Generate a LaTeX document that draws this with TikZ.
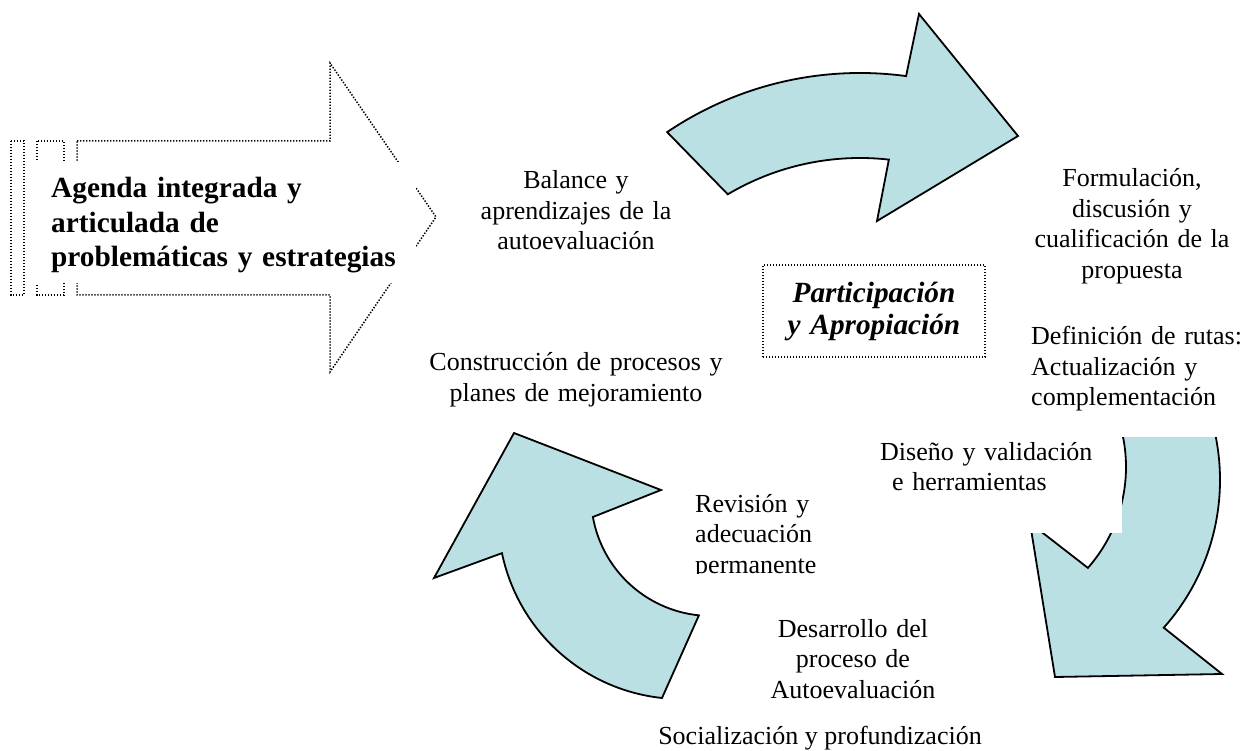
\documentclass[tikz,border=0pt]{standalone}
\usepackage{fontspec}
\setmainfont{Liberation Serif}
\definecolor{arrowblue}{RGB}{186,224,228}
\tikzset{
bluearrow/.style={draw=black, line width=1.8pt, fill=arrowblue, line join=miter}, % the three curved cycle arrows
dotline/.style={line width=1.5pt, dash pattern=on 1.4pt off 1.6pt}, % dotted outlines
mask/.style={fill=white}, % white text boxes that hide parts of the arrows
txt/.style={inner sep=0pt, font=\fontsize{26}{30.5}\selectfont}, % plain step texts
boldtxt/.style={inner sep=0pt, font=\fontsize{29.3}{34.5}\selectfont\bfseries}, % agenda text
}

\begin{document}
\begin{tikzpicture}[x=1pt, y=-1pt]
\useasboundingbox (0,0) rectangle (1243,751);

% striped arrow on the left
\draw[dotline] (11,141) rectangle (24,295);
\draw[dotline] (37,141) rectangle (64,295);
\draw[dotline] (77,141) -- (330,141) -- (330,63) -- (436,217) -- (330,372) -- (330,295) -- (77,295) -- cycle;
\fill[mask] (30,162) rectangle (416,283);
\node[boldtxt, anchor=base west, text width=350pt, align=left] (agenda) at (51,198)
  {Agenda integrada y\\articulada de\\problemáticas y estrategias};

% cycle arrows
\draw[bluearrow] (667.15,132.13) arc[start angle=235.9, end angle=277.7, radius=344]
  -- (919,14) -- (1018,136) -- (877,221) -- (888.87,159.61)
  arc[start angle=276.4, end angle=239.3, radius=259] -- cycle;
\draw[bluearrow] (1199.2,386.2) arc[start angle=-25, end angle=41.7, radius=222]
  -- (1222,674) -- (1055,677) -- (1030,523) -- (1087.9,567.9)
  arc[start angle=41.4, end angle=-30, radius=152.5] -- cycle;
\draw[bluearrow] (662,698) arc[start angle=96.1, end angle=168.2, radius=183.4]
  -- (434,578) -- (514,433) -- (661,490) -- (592.9,517)
  arc[start angle=169.9, end angle=95.8, radius=120] -- cycle;

\fill[mask] (1026,300) rectangle (1243,437);
\fill[mask] (872,436) rectangle (1122,533);

% step texts
\node[txt, anchor=base, text width=220pt, align=center] (balance) at (576,189)
  {Balance y\\aprendizajes de la\\autoevaluación};
\node[txt, anchor=base, text width=220pt, align=center] (formulacion) at (1132,187)
  {Formulación,\\discusión y\\cualificación de la\\propuesta};
\node[txt, anchor=base west, text width=220pt, align=left] (rutas) at (1031,345)
  {Definición de rutas:\\Actualización y\\complementación};
\node[txt, anchor=base, text width=300pt, align=center] (construccion) at (576,371)
  {Construcción de procesos y\\planes de mejoramiento};
\node[txt, anchor=base west, text width=230pt, align=left] (diseno) at (880,460)
  {Diseño y validación\\\hspace*{12pt}e herramientas};
\begin{scope}
\clip (690,480) rectangle (830,573);
\node[txt, anchor=base west, text width=140pt, align=left] (revision) at (695,512)
  {Revisión y\\adecuación\\permanente};
\end{scope}
\node[txt, anchor=base, text width=220pt, align=center] (desarrollo) at (853,637)
  {Desarrollo del\\proceso de\\Autoevaluación};
\node[txt, anchor=base] (social) at (820,744) {Socialización y profundización};

% centre label
\node[draw, dotline, minimum width=222pt, minimum height=92pt, text width=200pt, align=center,
  inner sep=0pt, font=\fontsize{29.3}{32}\selectfont\bfseries\itshape] (participacion) at (874,311)
  {Participación\\y Apropiación};
\end{tikzpicture}
\end{document}
